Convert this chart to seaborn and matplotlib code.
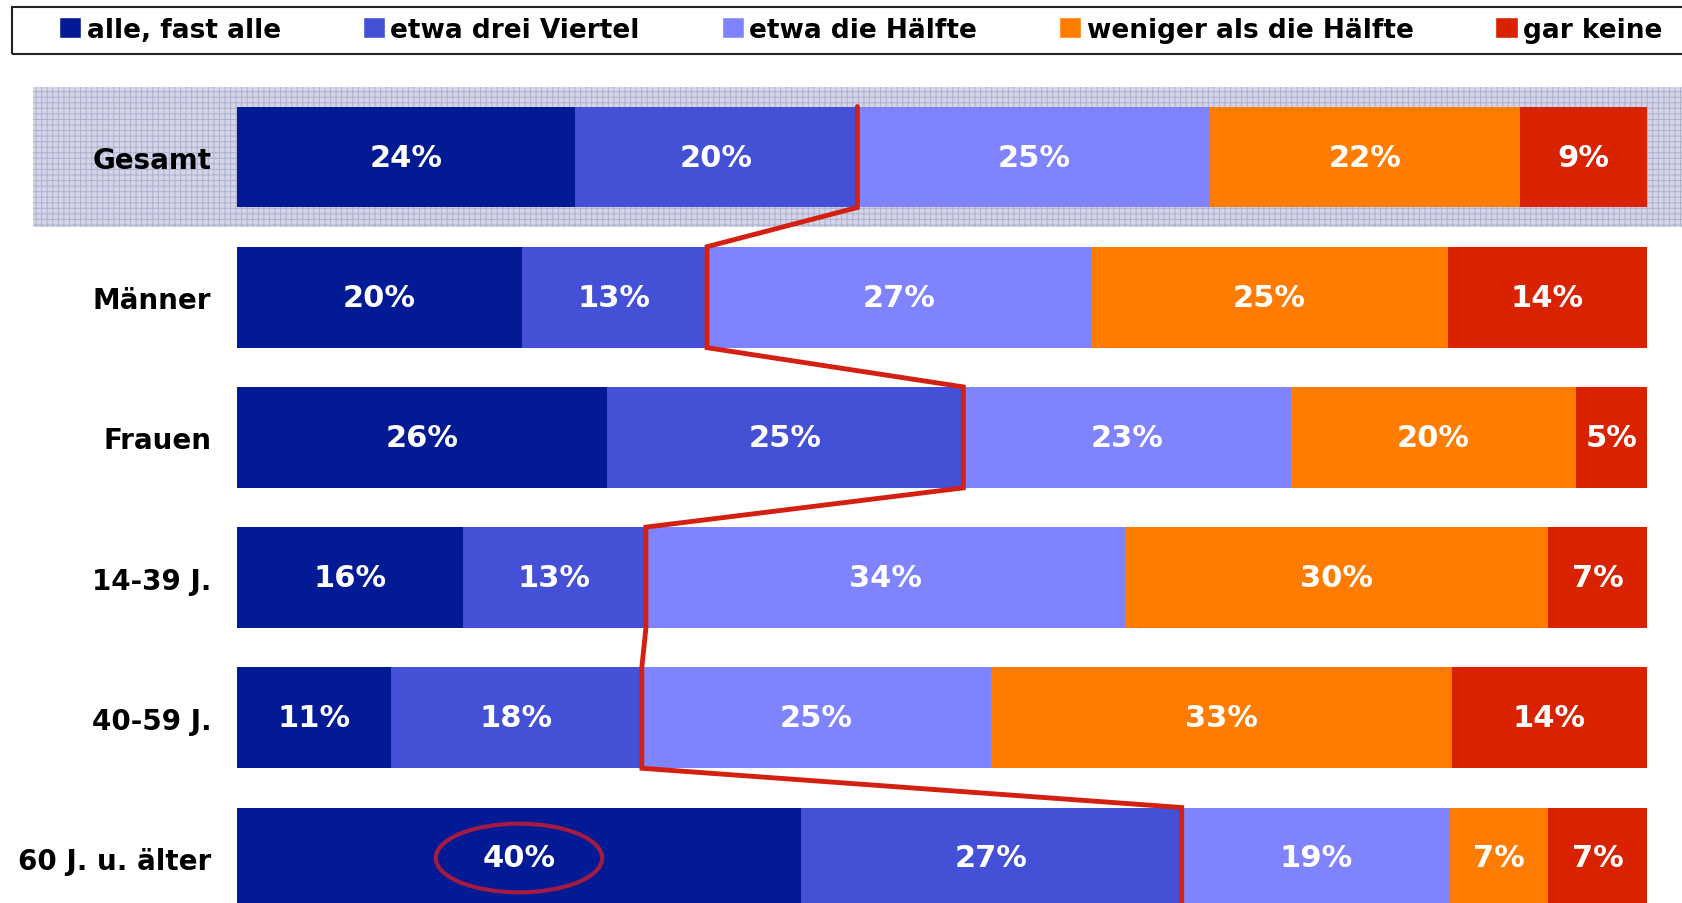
import numpy as np
import pandas as pd
import matplotlib.pyplot as plt
import seaborn as sns
from matplotlib.patches import Rectangle, Ellipse, Patch

# data
categories = ["Gesamt", "Männer", "Frauen", "14-39 J.", "40-59 J.", "60 J. u. älter"]
series_names = ["alle, fast alle", "etwa drei Viertel", "etwa die Hälfte",
                "weniger als die Hälfte", "gar keine"]
alle = [24, 20, 26, 16, 11, 40]
drei_viertel = [20, 13, 25, 13, 18, 27]
haelfte = [25, 27, 23, 34, 25, 19]
weniger = [22, 25, 20, 30, 33, 7]
keine = [9, 14, 5, 7, 14, 7]

colors = ["#021A94", "#4450D6", "#7F84FE", "#FF7C00", "#D92200"]

sns.set_style("white")
plt.rcParams["font.family"] = ["DejaVu Sans"]
plt.rcParams["text.color"] = "black"
plt.rcParams["ytick.color"] = "black"
plt.rcParams["hatch.linewidth"] = 0.7

df = pd.DataFrame(dict(zip(series_names, [alle, drei_viertel, haelfte, weniger, keine])),
                  index=categories)
shares = df.div(df.sum(axis=1), axis=0) * 100
cum = shares.cumsum(axis=1)

W, H = 1683, 904
fig = plt.figure(figsize=(W / 100, H / 100), dpi=100)
ax = fig.add_axes([237 / W, 0, 1410 / W, 1])

bar_h = 0.72

# stacked bars: draw cumulative totals from the largest down
for name, color in reversed(list(zip(series_names, colors))):
    sns.barplot(x=cum[name].values, y=categories, orient="h", color=color,
                saturation=1, width=bar_h, linewidth=0, ax=ax)

ax.set_xlim(0, 100)
ax.set_ylim(5.321, -1.127)
px_per_unit = 1410 / 100

# hatched highlight behind the "Gesamt" row
bg = Rectangle((-204 / px_per_unit, -0.5), 120, 1.0, facecolor="#d4d5e7",
               edgecolor="#aeb1cf", hatch="+++", linewidth=0, zorder=0, clip_on=False)
ax.add_patch(bg)

# value labels
for i, cat in enumerate(categories):
    for name in series_names:
        v = df.loc[cat, name]
        xc = cum.loc[cat, name] - shares.loc[cat, name] / 2
        ax.text(xc, i, f"{v}%", ha="center", va="center", color="white",
                fontsize=22, fontweight="bold", zorder=5)

# red connecting line along the "drei Viertel" boundary
xs, ys = [], []
for i, cat in enumerate(categories):
    xb = cum.loc[cat, "etwa drei Viertel"]
    xs += [xb, xb]
    ys += [i - bar_h / 2, i + bar_h / 2]
ax.plot(xs, ys, color="#D42010", lw=3.5, solid_joinstyle="miter", zorder=4, clip_on=False)

# circle around 40%
last = categories[-1]
xc = cum.loc[last, "alle, fast alle"] - shares.loc[last, "alle, fast alle"] / 2
ax.add_patch(Ellipse((xc, len(categories) - 1), 11.8, 0.49, fill=False,
                     edgecolor="#A51A42", lw=3, zorder=6))

ax.set_yticks(range(len(categories)))
ax.set_yticklabels(categories, fontsize=20, fontweight="bold", color="black")
ax.tick_params(axis="y", length=0, pad=18.5)
ax.set_xticks([])
ax.set_xlabel("")
ax.set_ylabel("")
sns.despine(ax=ax, left=True, bottom=True)

# legend with its own frame
handles = [Patch(facecolor=c, label=n) for n, c in zip(series_names, colors)]
leg = fig.legend(handles=handles, loc="center left", bbox_to_anchor=(59 / W, 1 - 31 / H),
                 ncol=5, frameon=False, prop={"size": 19, "weight": "bold"},
                 handlelength=0.85, handleheight=0.85, handletextpad=0.2,
                 columnspacing=3.1, borderaxespad=0, borderpad=0)
for t in leg.get_texts():
    t.set_color("black")
fig.add_artist(Rectangle((12 / W, 1 - 55 / H), (1700 - 12) / W, 47 / H,
                         transform=fig.transFigure, fill=False,
                         edgecolor="#222222", lw=1.5))

fig.savefig("out.png", dpi=100)
